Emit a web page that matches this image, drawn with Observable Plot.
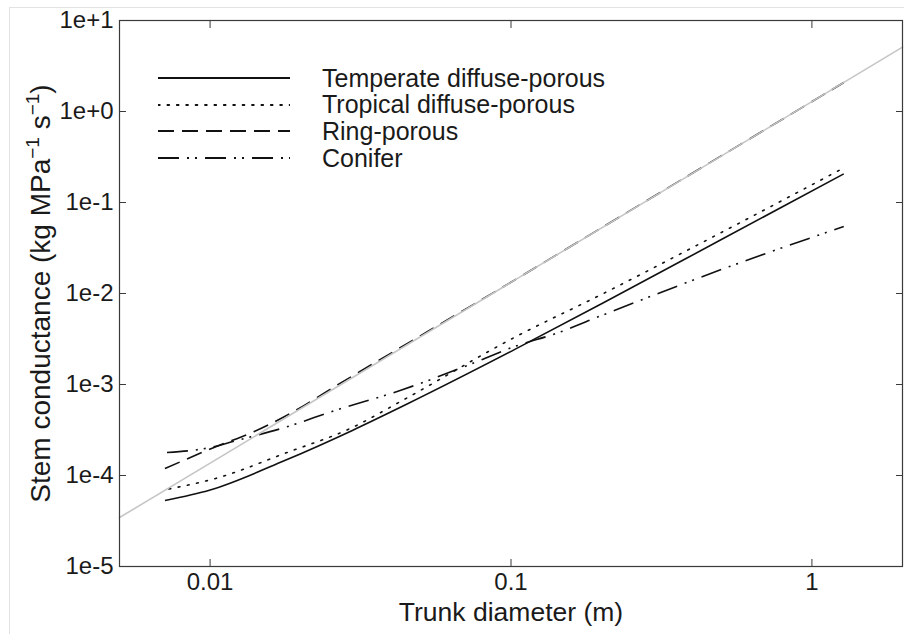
<!DOCTYPE html>
<html><head><meta charset="utf-8">
<script src="https://cdn.jsdelivr.net/npm/d3@7"></script>
<script src="https://cdn.jsdelivr.net/npm/@observablehq/plot@0.6"></script>
<style>
body{margin:0;background:#fff;font-family:"Liberation Sans",Arial,sans-serif;}
#wrap{position:relative;width:904px;height:634px;overflow:hidden;background:#fff;}
#outer{position:absolute;left:9px;top:7px;width:1000px;height:1000px;border-left:1px solid #e2e2e2;border-top:1px solid #e2e2e2;pointer-events:none;}
#legend{position:absolute;left:158px;top:65px;}
.row{display:flex;align-items:center;height:26.6px;}
.row svg{width:132px;height:10px;margin-right:32px;flex:none;}
.row span{font-size:25px;color:#1a1a1a;white-space:nowrap;}
</style></head><body>
<div id="wrap"><div id="chart"></div><div id="legend"></div><div id="outer"></div></div>
<script>
// ---- data ----
const seriesNames = ["Temperate diffuse-porous", "Tropical diffuse-porous", "Ring-porous", "Conifer"];

const temperateD = [0.00708, 0.01, 0.0177, 0.0297, 0.0455, 0.103, 0.2, 0.502, 1.276];
const temperateG = [5.31e-5, 6.93e-5, 1.46e-4, 3.13e-4, 6.18e-4, 2.43e-3, 7.71e-3, 0.0394, 0.2065];

const tropicalD = [0.0073, 0.0107, 0.0177, 0.0297, 0.0428, 0.103, 0.2, 0.5, 1.276];
const tropicalG = [7.11e-5, 9.51e-5, 1.75e-4, 3.37e-4, 6.46e-4, 3.31e-3, 9.77e-3, 0.0468, 0.240];

const ringD = [0.00708, 0.0107, 0.0138, 0.0177, 0.0281, 0.1, 0.316, 1.276];
const ringG = [1.19e-4, 2.14e-4, 2.97e-4, 4.45e-4, 1.11e-3, 0.0133, 0.131, 2.08];

const coniferD = [0.00719, 0.01, 0.0121, 0.0177, 0.026, 0.0428, 0.0703, 0.103, 0.144, 0.2, 0.555, 1.276];
const coniferG = [1.79e-4, 2.03e-4, 2.40e-4, 3.37e-4, 5.18e-4, 8.59e-4, 1.58e-3, 2.62e-3, 3.72e-3, 5.73e-3, 0.0208, 0.0545];

// grey reference line (slope ~2)
const refD = [0.005, 2];
const refG = [3.45e-5, 5.09];

const xTicks = [0.01, 0.1, 1];
const xTickLabels = ["0.01", "0.1", "1"];
const yTicks = [1e-5, 1e-4, 1e-3, 1e-2, 1e-1, 1, 10];
const yTickLabels = ["1e-5", "1e-4", "1e-3", "1e-2", "1e-1", "1e+0", "1e+1"];

// ---- styles ----
const dashes = {
  "Temperate diffuse-porous": null,
  "Tropical diffuse-porous": "1.8,7.6",
  "Ring-porous": "16,8",
  "Conifer": "21,8,2,6,2,8"
};

function toRows(name, ds, gs){ return ds.map((d,i)=>({series:name, d, g:gs[i]})); }
const tables = {
  "Temperate diffuse-porous": toRows(seriesNames[0], temperateD, temperateG),
  "Tropical diffuse-porous": toRows(seriesNames[1], tropicalD, tropicalG),
  "Ring-porous": toRows(seriesNames[2], ringD, ringG),
  "Conifer": toRows(seriesNames[3], coniferD, coniferG)
};
const refRows = toRows("reference", refD, refG);

const lineMark = name => Plot.line(tables[name], {
  x:"d", y:"g", stroke:"#111", strokeWidth:1.6, curve:"monotone-x",
  strokeDasharray: dashes[name], strokeLinecap: name === "Tropical diffuse-porous" ? "round" : "butt"
});

const fmtX = d => { const k = xTicks.findIndex(t => Math.abs(t - d) < 1e-9 * Math.max(1, t)); return k >= 0 ? xTickLabels[k] : ""; };
const fmtY = d => { const k = yTicks.findIndex(t => Math.abs(Math.log10(t) - Math.log10(d)) < 1e-6); return k >= 0 ? yTickLabels[k] : ""; };

const chart = Plot.plot({
  width:904, height:634,
  marginLeft:119, marginRight:2, marginTop:20, marginBottom:68,
  style:{fontFamily:"'Liberation Sans', Arial, sans-serif", color:"#1a1a1a", background:"white", overflow:"visible"},
  x:{type:"log", domain:[0.005, 2]},
  y:{type:"log", domain:[1e-5, 10]},
  marks:[
    lineMark("Conifer"),
    lineMark("Tropical diffuse-porous"),
    lineMark("Temperate diffuse-porous"),
    lineMark("Ring-porous"),
    Plot.line(refRows, {x:"d", y:"g", stroke:"#c6c6c6", strokeWidth:1.6}),
    Plot.frame({stroke:"#3a3a3a", strokeWidth:1.2}),
    Plot.axisY({anchor:"left", ticks:yTicks, tickFormat:fmtY, tickSize:-7, tickPadding:13,
      stroke:"#3a3a3a", fontSize:24, label:"Stem conductance (kg MPa-1 s-1)", labelAnchor:"center", labelOffset:89, labelArrow:"none"}),
    Plot.axisY({anchor:"right", ticks:yTicks, tickFormat:()=>"", tickSize:-7, stroke:"#3a3a3a", label:null}),
    Plot.axisX({anchor:"bottom", ticks:xTicks, tickFormat:fmtX, tickSize:-7, tickPadding:13,
      stroke:"#3a3a3a", fontSize:24, label:"Trunk diameter (m)", labelAnchor:"center", labelOffset:54, labelArrow:"none"}),
    Plot.axisX({anchor:"top", ticks:xTicks, tickFormat:()=>"", tickSize:-7, stroke:"#3a3a3a", label:null})
  ]
});
document.getElementById("chart").appendChild(chart);

// axis label styling (font size, superscripts)
const ylab = chart.querySelector('g[aria-label="y-axis label"] text');
if (ylab) {
  ylab.setAttribute("font-size", "28");
  while (ylab.firstChild) ylab.removeChild(ylab.firstChild);
  const parts = [["Stem conductance (kg MPa",0,null],["\u22121",-11,19],[" s",11,null],["\u22121",-11,19],[")",11,null]];
  for (const [t,dy,fs] of parts) {
    const ts = document.createElementNS("http://www.w3.org/2000/svg","tspan");
    ts.textContent = t;
    if (dy) ts.setAttribute("dy", dy);
    if (fs) ts.setAttribute("font-size", fs);
    ylab.appendChild(ts);
  }
}
const xlab = chart.querySelector('g[aria-label="x-axis label"] text');
if (xlab) xlab.setAttribute("font-size", "26.5");

// legend (inside plot area, as in the reference)
const legend = document.getElementById("legend");
for (const name of seriesNames) {
  const row = document.createElement("div"); row.className = "row";
  const da = dashes[name];
  row.innerHTML = `<svg viewBox="0 0 132 10"><line x1="0" x2="132" y1="5" y2="5" stroke="#111" stroke-width="1.8"${da ? ` stroke-dasharray="${da}"` : ""}${name==="Tropical diffuse-porous"?' stroke-linecap="round"':''}/></svg><span>${name}</span>`;
  legend.appendChild(row);
}
</script>
</body></html>
